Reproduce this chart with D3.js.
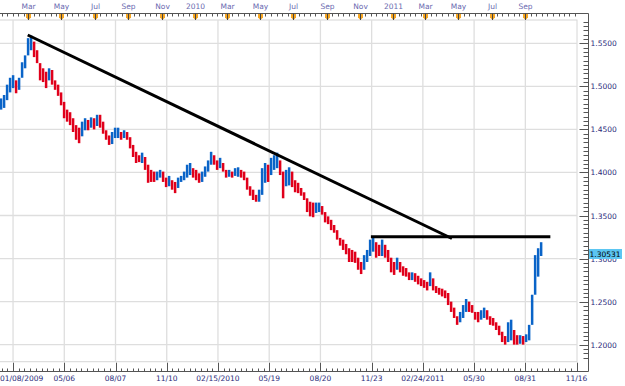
<!DOCTYPE html>
<html>
<head>
<meta charset="utf-8">
<script src="https://cdn.jsdelivr.net/npm/d3@7"></script>
<style>
  body { margin: 0; background: #fff; }
  svg { display: block; font-family: "DejaVu Sans", Verdana, sans-serif; }
</style>
</head>
<body>
<svg id="chart" width="625" height="386"></svg>
<script>
// price range of each bar (one bar every ~5.5 days)
var highs = [
  1.486, 1.490, 1.502, 1.510, 1.513, 1.507, 1.510, 1.528, 1.536, 1.556,
  1.559, 1.552, 1.542, 1.525, 1.521, 1.517, 1.521, 1.519, 1.507, 1.502,
  1.493, 1.482, 1.473, 1.470, 1.463, 1.455, 1.452, 1.459, 1.463, 1.461,
  1.464, 1.463, 1.467, 1.467, 1.459, 1.449, 1.443, 1.447, 1.452, 1.452,
  1.447, 1.449, 1.447, 1.441, 1.432, 1.424, 1.420, 1.423, 1.418, 1.409,
  1.403, 1.401, 1.401, 1.403, 1.401, 1.394, 1.396, 1.391, 1.389, 1.394,
  1.396, 1.401, 1.409, 1.411, 1.405, 1.403, 1.399, 1.401, 1.407, 1.414,
  1.424, 1.420, 1.414, 1.417, 1.411, 1.403, 1.403, 1.401, 1.405, 1.406,
  1.403, 1.401, 1.394, 1.384, 1.380, 1.374, 1.380, 1.405, 1.411, 1.409,
  1.417, 1.420, 1.423, 1.414, 1.401, 1.403, 1.406, 1.401, 1.391, 1.388,
  1.382, 1.377, 1.370, 1.366, 1.365, 1.365, 1.365, 1.361, 1.354, 1.349,
  1.345, 1.339, 1.333, 1.324, 1.322, 1.317, 1.312, 1.310, 1.308, 1.301,
  1.296, 1.304, 1.310, 1.322, 1.324, 1.319, 1.316, 1.322, 1.316, 1.310,
  1.301, 1.296, 1.301, 1.296, 1.291, 1.289, 1.284, 1.284, 1.283, 1.280,
  1.277, 1.275, 1.273, 1.284, 1.277, 1.268, 1.266, 1.265, 1.263, 1.260,
  1.250, 1.243, 1.233, 1.238, 1.246, 1.253, 1.250, 1.246, 1.238, 1.238,
  1.240, 1.243, 1.240, 1.233, 1.231, 1.226, 1.222, 1.215, 1.210, 1.226,
  1.229, 1.217, 1.211, 1.211, 1.210, 1.212, 1.223, 1.258, 1.304, 1.312,
  1.319
];
var lows = [
  1.473, 1.475, 1.484, 1.493, 1.498, 1.492, 1.496, 1.513, 1.521, 1.536,
  1.542, 1.534, 1.527, 1.507, 1.505, 1.498, 1.507, 1.502, 1.496, 1.489,
  1.478, 1.463, 1.459, 1.455, 1.447, 1.438, 1.434, 1.442, 1.449, 1.449,
  1.452, 1.450, 1.454, 1.452, 1.445, 1.438, 1.432, 1.433, 1.440, 1.440,
  1.438, 1.440, 1.438, 1.428, 1.418, 1.411, 1.412, 1.411, 1.403, 1.388,
  1.389, 1.389, 1.391, 1.394, 1.389, 1.383, 1.384, 1.380, 1.376, 1.382,
  1.389, 1.391, 1.394, 1.397, 1.394, 1.391, 1.388, 1.389, 1.395, 1.401,
  1.409, 1.409, 1.403, 1.405, 1.401, 1.394, 1.395, 1.394, 1.396, 1.395,
  1.394, 1.391, 1.380, 1.373, 1.368, 1.366, 1.366, 1.374, 1.388, 1.389,
  1.397, 1.403, 1.405, 1.397, 1.370, 1.384, 1.385, 1.383, 1.377, 1.376,
  1.373, 1.368, 1.354, 1.349, 1.348, 1.353, 1.354, 1.351, 1.342, 1.340,
  1.333, 1.330, 1.322, 1.315, 1.310, 1.305, 1.296, 1.296, 1.295, 1.287,
  1.282, 1.287, 1.296, 1.303, 1.308, 1.301, 1.303, 1.303, 1.301, 1.296,
  1.284, 1.281, 1.287, 1.284, 1.280, 1.279, 1.275, 1.275, 1.273, 1.270,
  1.268, 1.266, 1.263, 1.268, 1.263, 1.260, 1.258, 1.256, 1.254, 1.246,
  1.238, 1.231, 1.223, 1.226, 1.231, 1.238, 1.238, 1.237, 1.229, 1.226,
  1.229, 1.231, 1.229, 1.223, 1.222, 1.217, 1.211, 1.203, 1.200, 1.203,
  1.205, 1.200, 1.200, 1.201, 1.200, 1.203, 1.205, 1.223, 1.258, 1.279,
  1.303
];
var firstBar = new Date(2009, 0, 10);
var barStepDays = 5.517;

var bottomLabels = ['01/08/2009', '05/06', '08/07', '11/10', '02/15/2010', '05/19',
                    '08/20', '11/23', '02/24/2011', '05/30', '08/31', '11/16'];
var bottomFirst = new Date(2009, 1, 1);
var bottomStepDays = 94.2;

var trendLine = [[new Date(2009, 1, 28), 1.5597], [new Date(2011, 3, 19), 1.3233]];
var resistance = [[new Date(2010, 10, 21), 1.3253], [new Date(2011, 9, 17), 1.3253]];
var lastPrice = 1.30531;

var width = 625, height = 386;
var plotRight = 577, plotTop = 20, plotBottom = 361.7;
var axisX = 588.5, topAxisY = 13.5, bottomAxisY = 371.5;
var upColor = '#0a64c8', downColor = '#e0001b';
var labelColor = '#2a2a7a';

var svg = d3.select('#chart');

var x = d3.scaleTime()
    .domain([new Date(2009, 0, 8), new Date(2011, 11, 5)])
    .range([0, plotRight]);
var y = d3.scaleLinear()
    .domain([1.1802, 1.5771])
    .range([plotBottom, plotTop]);

var day = 86400000;
var bars = highs.map(function(h, i) {
    return { date: new Date(+firstBar + i * barStepDays * day), high: h, low: lows[i] };
});
var lastDate = bars[bars.length - 1].date;

// plot frame + grid
svg.append('rect')
    .attr('x', -1).attr('y', plotTop)
    .attr('width', plotRight + 1).attr('height', plotBottom - plotTop)
    .attr('fill', 'none').attr('stroke', '#d6d6d6');

var bottomTicks = bottomLabels.map(function(l, k) {
    return { label: l, date: new Date(+bottomFirst + k * bottomStepDays * day) };
});

var grid = svg.append('g').attr('stroke', '#dedede').attr('stroke-width', 1.3);
grid.selectAll('.gx').data(bottomTicks.slice(0, -1)).enter().append('line')
    .attr('x1', function(d) { return x(d.date); })
    .attr('x2', function(d) { return x(d.date); })
    .attr('y1', plotTop).attr('y2', plotBottom);
var majorPrices = d3.range(1.20, 1.5501, 0.05);
grid.selectAll('.gy').data(majorPrices).enter().append('line')
    .attr('x1', 0).attr('x2', plotRight)
    .attr('y1', function(d) { return y(d); })
    .attr('y2', function(d) { return y(d); });

// bars: each one also reaches back to the previous bar so the trace stays joined
svg.append('g').selectAll('line').data(bars).enter().append('line')
    .attr('x1', function(d) { return x(d.date); })
    .attr('x2', function(d) { return x(d.date); })
    .attr('y1', function(d, i) {
        var top = i > 0 ? Math.max(d.high, bars[i - 1].low) : d.high;
        return y(top);
    })
    .attr('y2', function(d, i) {
        var bot = i > 0 ? Math.min(d.low, bars[i - 1].high) : d.low;
        return y(bot);
    })
    .attr('stroke-width', 2.5)
    .attr('stroke', function(d, i) {
        if (i == 0) return upColor;
        var prev = bars[i - 1];
        return (d.high + d.low) >= (prev.high + prev.low) ? upColor : downColor;
    });

// drawn lines
var line = d3.line()
    .x(function(d) { return x(d[0]); })
    .y(function(d) { return y(d[1]); });
[trendLine, resistance].forEach(function(pts) {
    svg.append('path').attr('d', line(pts))
        .attr('fill', 'none').attr('stroke', '#000').attr('stroke-width', 3);
});

// top axis (months)
var axisStroke = '#555';
svg.append('line').attr('x1', 0).attr('x2', axisX).attr('y1', topAxisY).attr('y2', topAxisY)
    .attr('stroke', axisStroke);
var minorDays = d3.timeDay.range(x.domain()[0], x.domain()[1])
    .filter(function(d) { return [1, 11, 21].indexOf(d.getDate()) >= 0; });
svg.append('g').selectAll('line').data(minorDays).enter().append('line')
    .attr('x1', function(d) { return Math.round(x(d)) + 0.5; })
    .attr('x2', function(d) { return Math.round(x(d)) + 0.5; })
    .attr('y1', topAxisY).attr('y2', topAxisY + 3)
    .attr('stroke', axisStroke);

var months = d3.timeMonth.every(2).range(new Date(2009, 1, 1), lastDate);
var fmtMonth = function(d) { return d.getMonth() == 0 ? d3.timeFormat('%Y')(d) : d3.timeFormat('%b')(d); };
var mk = svg.append('g').selectAll('g').data(months).enter().append('g')
    .attr('transform', function(d) { return 'translate(' + (Math.round(x(d)) + 0.5) + ',0)'; });
mk.append('path')
    .attr('d', 'M-2.5,' + (topAxisY + 0.5) + 'h5v3.5l-2.5,2.5l-2.5,-2.5z')
    .attr('fill', '#f5a623');
mk.append('line').attr('y1', topAxisY).attr('y2', plotTop)
    .attr('stroke', '#444');
mk.append('text').attr('y', 8.5).attr('text-anchor', 'middle')
    .attr('font-size', 7.5).attr('fill', '#6a6ab0')
    .text(fmtMonth);

// right axis (price)
svg.append('line').attr('x1', axisX).attr('x2', axisX).attr('y1', topAxisY).attr('y2', bottomAxisY)
    .attr('stroke', axisStroke);
var minorPrices = d3.range(1.185, 1.5751, 0.005);
svg.append('g').selectAll('line').data(minorPrices).enter().append('line')
    .attr('x1', axisX - 5).attr('x2', axisX)
    .attr('y1', function(d) { return Math.round(y(d)) + 0.5; })
    .attr('y2', function(d) { return Math.round(y(d)) + 0.5; })
    .attr('stroke', axisStroke);
svg.append('g').selectAll('line').data(majorPrices).enter().append('line')
    .attr('x1', axisX - 9).attr('x2', axisX)
    .attr('y1', function(d) { return Math.round(y(d)) + 0.5; })
    .attr('y2', function(d) { return Math.round(y(d)) + 0.5; })
    .attr('stroke', axisStroke);
svg.append('g').selectAll('text').data(majorPrices).enter().append('text')
    .attr('x', axisX + 2).attr('y', function(d) { return y(d) + 3; })
    .attr('font-size', 7.5).attr('fill', labelColor)
    .text(function(d) { return d3.format('.4f')(d); });

// last price tag (sits on top of the 1.3000 label, as in the source)
var tagY = y(lastPrice);
svg.append('rect').attr('x', axisX + 0.5).attr('y', tagY - 5).attr('width', 33).attr('height', 10)
    .attr('fill', '#5cc6f2');
svg.append('text').attr('x', axisX + 1).attr('y', tagY + 3)
    .attr('font-size', 7.5).attr('fill', '#000')
    .text(d3.format('.5f')(lastPrice));

// bottom axis (dates)
svg.append('line').attr('x1', 0).attr('x2', axisX).attr('y1', bottomAxisY).attr('y2', bottomAxisY)
    .attr('stroke', axisStroke);
var minorBottom = [];
bottomTicks.forEach(function(t, k) {
    for (var j = -8; j < 1; j++) {
        var dd = new Date(+t.date + j * bottomStepDays / 9 * day);
        if (x(dd) >= 0) minorBottom.push(dd);
    }
});
svg.append('g').selectAll('line').data(minorBottom).enter().append('line')
    .attr('x1', function(d) { return Math.round(x(d)) + 0.5; })
    .attr('x2', function(d) { return Math.round(x(d)) + 0.5; })
    .attr('y1', bottomAxisY - 3).attr('y2', bottomAxisY)
    .attr('stroke', axisStroke);
svg.append('g').selectAll('line').data(bottomTicks).enter().append('line')
    .attr('x1', function(d) { return Math.round(x(d.date)) + 0.5; })
    .attr('x2', function(d) { return Math.round(x(d.date)) + 0.5; })
    .attr('y1', plotBottom + 1).attr('y2', bottomAxisY)
    .attr('stroke', axisStroke);
svg.append('g').selectAll('text').data(bottomTicks).enter().append('text')
    .attr('font-size', 7.5).attr('fill', labelColor)
    .attr('y', 381)
    .attr('x', function(d) { return x(d.date); })
    .attr('text-anchor', 'middle')
    .text(function(d) { return d.label; })
    .each(function() {
        var b = this.getBBox();
        if (b.x < 0) d3.select(this).attr('x', 0).attr('text-anchor', 'start');
    });
</script>
</body>
</html>
